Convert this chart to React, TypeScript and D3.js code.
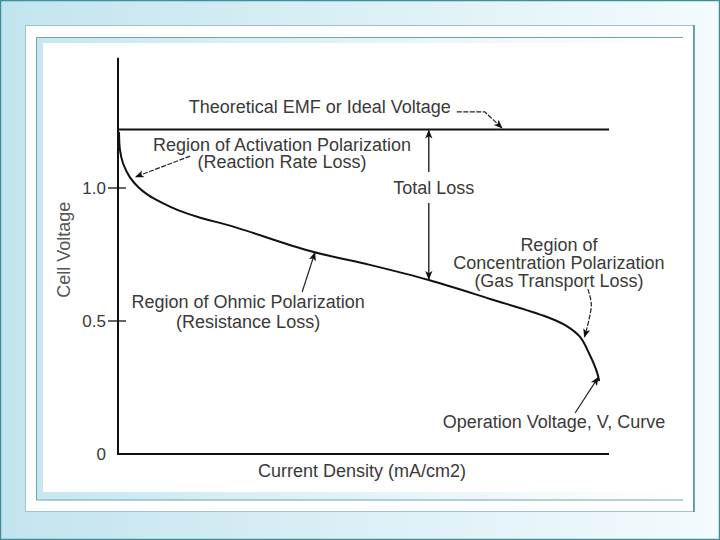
import { FC, useEffect, useRef } from "react";
import * as d3 from "d3";

// operating voltage curve (current density in % of full scale)
const curveCurrent = [0.2, 0.4, 1.0, 2.4, 4.1, 6.1, 9.0, 12.2, 16.3, 23.8, 39.1, 51.3, 63.3, 75.8, 87.4, 91.4, 94.1, 96.1, 97.6, 98.0];
const curveVoltage = [1.211, 1.143, 1.094, 1.041, 1.004, 0.974, 0.944, 0.917, 0.891, 0.853, 0.763, 0.711, 0.654, 0.583, 0.515, 0.481, 0.440, 0.372, 0.305, 0.274];

const idealVoltage = 1.22;
const yTickValues = [0, 0.5, 1.0];
const yTickLabels = ["0", "0.5", "1.0"];

const yAxisTitle = "Cell Voltage";
const xAxisTitle = "Current Density (mA/cm2)";

// annotation text: [x, y, lines]
const labelX = [41.1, 33.4, 26.5, 89.8, 88.8];
const labelY = [1.282, 1.139, 0.549, 0.763, 0.098];
const labelLines = [
    ["Theoretical EMF or Ideal Voltage"],
    ["Region of Activation Polarization", "(Reaction Rate Loss)"],
    ["Region of Ohmic Polarization", "(Resistance Loss)"],
    ["Region of", "Concentration Polarization", "(Gas Transport Loss)"],
    ["Operation Voltage, V, Curve"],
];
const labelLineGap = [0, 0.062, 0.075, 0.067, 0];

// leader arrows (points in data units, last one gets the arrow head)
const leaders: [number, number][][] = [
    [[69.0, 1.286], [74.7, 1.286], [78.2, 1.226]],
    [[14.7, 1.120], [3.6, 1.042]],
    [[37.5, 0.609], [40.1, 0.757]],
    [[95.7, 0.620], [96.4, 0.560], [95.0, 0.440]],
    [[93.1, 0.154], [97.8, 0.288]],
];

const totalLossX = 63.3;
const totalLossLabel = "Total Loss";

const App: FC = () => {
    const svgRef = useRef<SVGSVGElement | null>(null);
    const width = 720;
    const height = 540;

    useEffect(() => {
        if (!svgRef.current) return;
        const svg = d3.select(svgRef.current);
        svg.selectAll("*").remove();

        const defs = svg.append("defs");
        const bg = defs.append("linearGradient").attr("id", "bg").attr("x1", 0).attr("x2", 1).attr("y1", 0).attr("y2", 0);
        bg.append("stop").attr("offset", "0%").attr("stop-color", "#c3e4ef");
        bg.append("stop").attr("offset", "100%").attr("stop-color", "#f3fbfd");
        const band = defs.append("linearGradient").attr("id", "band").attr("x1", 0).attr("x2", 1).attr("y1", 0).attr("y2", 0);
        band.append("stop").attr("offset", "0%").attr("stop-color", "#c6e7f1");
        band.append("stop").attr("offset", "100%").attr("stop-color", "#ffffff");
        defs.append("marker")
            .attr("id", "head")
            .attr("viewBox", "0 0 10 10")
            .attr("refX", 9).attr("refY", 5)
            .attr("markerWidth", 9).attr("markerHeight", 9)
            .attr("markerUnits", "userSpaceOnUse")
            .attr("orient", "auto-start-reverse")
            .append("path")
            .attr("d", "M0,1 L10,5 L0,9 L2.5,5 Z")
            .attr("fill", "#111");

        // slide frame
        svg.append("rect").attr("x", 0.5).attr("y", 0.5).attr("width", width - 1).attr("height", height - 1)
            .attr("fill", "url(#bg)").attr("stroke", "#3f8f9b").attr("stroke-width", 1.5);
        svg.append("rect").attr("x", 25.5).attr("y", 25.5).attr("width", 668).attr("height", 486)
            .attr("fill", "#fff").attr("stroke", "#9fc3ca").attr("stroke-width", 1);
        svg.append("path").attr("d", "M694,25 V512").attr("stroke", "#3f8f9b").attr("stroke-width", 1.5);
        svg.append("rect").attr("x", 36).attr("y", 37).attr("width", 647).attr("height", 463).attr("fill", "url(#band)");
        svg.append("rect").attr("x", 43).attr("y", 43).attr("width", 640).attr("height", 449).attr("fill", "#fff");
        svg.append("path").attr("d", "M683,37.5 H36.5 V500 H683")
            .attr("fill", "none").attr("stroke", "#6fa5ad").attr("stroke-width", 1);

        const x = d3.scaleLinear().domain([0, 100]).range([118, 609]);
        const y = d3.scaleLinear().domain([0, 1]).range([454, 188]);
        const yTop = 1.49;

        const font = "'Liberation Sans', Arial, sans-serif";
        const textColor = "#3a3a3a";
        const g = svg.append("g");

        // axes
        g.append("path")
            .attr("d", `M${x(0)},${y(yTop)} V${y(0)} H${x(100)}`)
            .attr("fill", "none").attr("stroke", "#111").attr("stroke-width", 2);

        yTickValues.forEach((v, i) => {
            if (v > 0) {
                g.append("line")
                    .attr("x1", x(0) - 10).attr("x2", x(0) + 8)
                    .attr("y1", y(v)).attr("y2", y(v))
                    .attr("stroke", "#111").attr("stroke-width", 1.3);
            }
            g.append("text")
                .attr("x", x(0) - 12).attr("y", y(v) + 6)
                .attr("text-anchor", "end")
                .attr("font-family", font).attr("font-size", 17)
                .attr("fill", textColor)
                .text(yTickLabels[i]);
        });

        g.append("text")
            .attr("transform", `translate(70, ${y(0.768)}) rotate(-90)`)
            .attr("text-anchor", "middle")
            .attr("font-family", font).attr("font-size", 18)
            .attr("fill", "#555")
            .text(yAxisTitle);

        g.append("text")
            .attr("x", x(49.7)).attr("y", 477)
            .attr("text-anchor", "middle")
            .attr("font-family", font).attr("font-size", 18)
            .attr("fill", textColor)
            .text(xAxisTitle);

        // ideal voltage line
        g.append("line")
            .attr("x1", x(0)).attr("x2", x(100))
            .attr("y1", y(idealVoltage)).attr("y2", y(idealVoltage))
            .attr("stroke", "#111").attr("stroke-width", 2);

        // voltage curve
        const pts = curveCurrent.map((c, i) => [c, curveVoltage[i]] as [number, number]);
        const line = d3.line<[number, number]>()
            .x(d => x(d[0]))
            .y(d => y(d[1]))
            .curve(d3.curveCatmullRom.alpha(0.5));
        g.append("path")
            .datum(pts)
            .attr("fill", "none")
            .attr("stroke", "#111")
            .attr("stroke-width", 2)
            .attr("d", line);

        // total loss double arrow, broken around the label
        const curveAt = d3.scaleLinear().domain(curveCurrent).range(curveVoltage);
        const lossBottom = curveAt(totalLossX);
        g.append("line")
            .attr("x1", x(totalLossX)).attr("x2", x(totalLossX))
            .attr("y1", y(1.06)).attr("y2", y(idealVoltage) + 1)
            .attr("stroke", "#111").attr("stroke-width", 1.3)
            .attr("marker-end", "url(#head)");
        g.append("line")
            .attr("x1", x(totalLossX)).attr("x2", x(totalLossX))
            .attr("y1", y(0.944)).attr("y2", y(lossBottom) - 1)
            .attr("stroke", "#111").attr("stroke-width", 1.3)
            .attr("marker-end", "url(#head)");
        g.append("text")
            .attr("x", x(64.3)).attr("y", y(0.977))
            .attr("text-anchor", "middle")
            .attr("font-family", font).attr("font-size", 18)
            .attr("fill", textColor)
            .text(totalLossLabel);

        // leaders
        const leaderLine = d3.line<[number, number]>().x(d => x(d[0])).y(d => y(d[1]));
        leaders.forEach((pts, i) => {
            g.append("path")
                .attr("d", i === 3 ? leaderLine.curve(d3.curveCatmullRom)(pts) : leaderLine.curve(d3.curveLinear)(pts))
                .attr("fill", "none")
                .attr("stroke", "#222")
                .attr("stroke-width", 1.2)
                .attr("stroke-dasharray", i === 2 || i === 4 ? null : "5,1.5")
                .attr("marker-end", "url(#head)");
        });

        // labels
        labelLines.forEach((lines, i) => {
            const t = g.append("text")
                .attr("text-anchor", "middle")
                .attr("font-family", font).attr("font-size", 18)
                .attr("fill", textColor);
            lines.forEach((s, j) => {
                t.append("tspan")
                    .attr("x", x(labelX[i]))
                    .attr("y", y(labelY[i] - j * labelLineGap[i]))
                    .text(s);
            });
        });
    }, []);

    return (
        <svg ref={svgRef} width={width} height={height}
            style={{ position: "absolute", left: 0, top: 0, display: "block" }}></svg>
    );
};

export default App;
